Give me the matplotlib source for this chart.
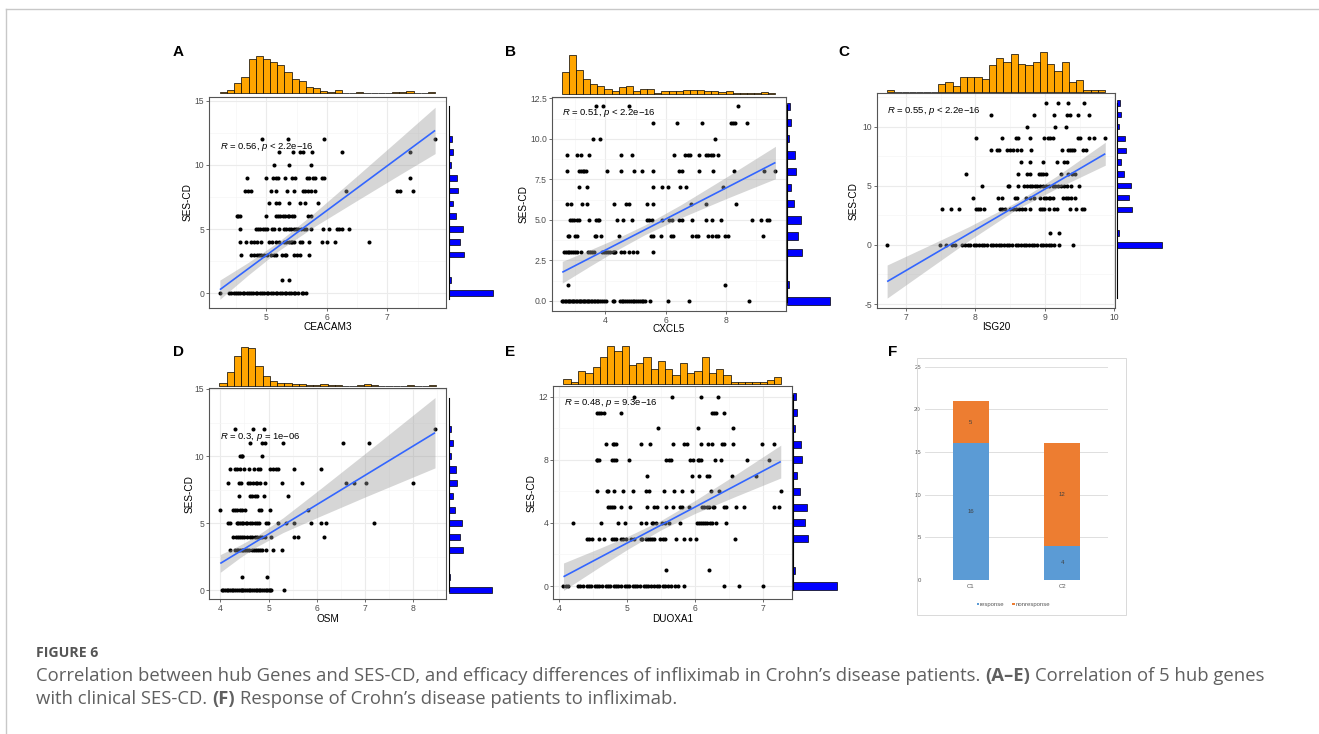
import numpy as np
import matplotlib
matplotlib.use("Agg")
import matplotlib.pyplot as plt
from matplotlib.lines import Line2D
from matplotlib.patches import Rectangle
from matplotlib.ticker import FixedLocator, MultipleLocator, FormatStrFormatter

plt.rcParams['font.family'] = ['Liberation Sans', 'DejaVu Sans']
plt.rcParams['mathtext.fontset'] = 'custom'
plt.rcParams['mathtext.rm'] = 'Liberation Sans'
plt.rcParams['mathtext.it'] = 'Liberation Sans:italic'
plt.rcParams['axes.unicode_minus'] = False

# ------------------------------------------------------------------ data
# SES-CD marginal histogram (same variable in every panel)
ses_levels = [0, 1, 3, 4, 5, 6, 7, 8, 9, 10, 11, 12]
ses_counts = [85, 3, 29, 22, 27, 13, 8, 17, 15, 4, 8, 5]

# Panel A: CEACAM3 values grouped by SES-CD score
ceacam3_by_ses = {
    12: [4.93, 5.36, 5.96, 7.79],
    11: [5.21, 5.44, 5.56, 5.60, 5.75, 6.25, 7.38],
    10: [5.12, 5.38, 5.74],
    9: [4.68, 5.00, 5.11, 5.15, 5.19, 5.30, 5.42, 5.47, 5.67, 5.70, 5.77, 5.80, 5.92, 5.95, 7.37],
    8: [4.65, 4.69, 4.74, 5.07, 5.16, 5.34, 5.46, 5.60, 5.64, 5.69, 5.73, 5.80, 6.31, 7.16, 7.21, 7.42],
    7: [5.04, 5.16, 5.20, 5.38, 5.56, 5.64, 5.86],
    6: [4.51, 4.53, 4.56, 4.99, 5.15, 5.19, 5.23, 5.27, 5.31, 5.36, 5.38, 5.43, 5.46, 5.69, 5.74],
    5: [4.56, 4.83, 4.86, 4.90, 4.94, 4.97, 5.01, 5.09, 5.13, 5.20, 5.29, 5.33, 5.37, 5.40, 5.45,
        5.49, 5.52, 5.57, 5.62, 5.65, 5.74, 5.93, 6.03, 6.16, 6.20, 6.25, 6.36],
    4: [4.56, 4.66, 4.75, 4.79, 4.85, 4.91, 5.04, 5.09, 5.15, 5.20, 5.29, 5.33, 5.37, 5.40, 5.43,
        5.46, 5.55, 5.59, 5.70, 5.92, 6.00, 6.14, 6.69],
    3: [4.58, 4.74, 4.79, 4.84, 4.88, 4.91, 4.96, 5.01, 5.07, 5.12, 5.15, 5.26, 5.30, 5.33, 5.45,
        5.51, 5.56, 5.70],
    1: [5.25, 5.38],
    0: [4.23, 4.38, 4.41, 4.46, 4.49, 4.53, 4.56, 4.61, 4.63, 4.68, 4.71, 4.75, 4.78, 4.83, 4.85,
        4.89, 4.93, 4.96, 5.01, 5.03, 5.08, 5.11, 5.15, 5.18, 5.23, 5.25, 5.30, 5.33, 5.38, 5.41,
        5.46, 5.48, 5.53, 5.58, 5.61, 5.66],
}
ceacam3_top_counts = [1, 3, 9, 14, 30, 33, 30, 27, 25, 19, 12, 11, 5, 4, 2, 1, 3, 0, 0, 1,
                      0, 0, 0, 0, 1, 1, 2, 0, 0, 1]
ceacam3_range = (4.23, 7.79)
ceacam3_fit_x = [4.23, 7.79]
ceacam3_fit_y = [0.26, 12.70]
ceacam3_ci_x = [4.23, 4.7, 5.2, 5.8, 6.5, 7.2, 7.79]
ceacam3_ci_lo = [-0.49, 1.41, 3.30, 5.21, 7.23, 9.23, 10.89]
ceacam3_ci_hi = [1.01, 2.39, 4.00, 6.29, 9.15, 12.05, 14.51]

# Panel B: CXCL5
cxcl5_by_ses = {
    12: [3.68, 3.93, 4.80, 8.41],
    11: [5.59, 6.39, 7.19, 8.17, 8.24, 8.30, 8.69],
    10: [3.60, 3.82, 7.64],
    9: [2.72, 3.05, 3.18, 3.45, 4.52, 4.87, 6.28, 6.65, 6.73, 6.81, 7.10, 7.34, 7.41, 7.49, 7.58, 7.75],
    8: [2.72, 3.13, 3.20, 3.25, 3.30, 3.36, 4.07, 4.52, 4.95, 5.23, 5.59, 6.44, 6.53, 7.10, 7.56,
        8.27, 9.27, 9.62],
    7: [3.14, 3.40, 5.59, 5.87, 6.09, 6.48, 6.66, 7.91],
    6: [2.72, 2.85, 3.22, 3.40, 4.29, 4.67, 4.80, 5.39, 5.59, 6.83, 7.33, 8.32],
    5: [2.83, 2.88, 2.96, 3.05, 3.13, 3.46, 3.69, 3.75, 3.80, 4.40, 4.57, 4.87, 5.37, 5.45, 5.54,
        5.89, 6.11, 6.22, 6.44, 6.53, 6.88, 7.33, 7.55, 7.83, 8.87, 9.15, 9.35, 9.44],
    4: [2.75, 2.81, 2.99, 3.05, 3.64, 3.68, 3.85, 4.46, 5.51, 5.59, 5.85, 6.17, 6.25, 6.88, 6.99,
        7.06, 7.41, 7.52, 7.67, 7.75, 7.97, 8.08, 9.24],
    3: [2.63, 2.70, 2.75, 2.81, 2.86, 2.92, 2.99, 3.05, 3.19, 3.41, 3.49, 3.55, 3.62, 3.90, 3.96,
        4.02, 4.08, 4.15, 4.24, 4.30, 4.32, 4.52, 4.62, 4.80, 4.91, 5.04, 5.59],
    1: [2.77, 7.97],
    0: [2.57, 2.61, 2.66, 2.71, 2.75, 2.79, 2.84, 2.89, 2.93, 2.97, 3.02, 3.07, 3.11, 3.15, 3.20,
        3.25, 3.29, 3.33, 3.38, 3.43, 3.47, 3.52, 3.57, 3.62, 3.66, 3.72, 3.77, 3.83, 3.89, 3.95,
        4.03, 4.24, 4.30, 4.49, 4.54, 4.60, 4.66, 4.72, 4.78, 4.84, 4.90, 4.96, 5.02, 5.08, 5.14,
        5.20, 5.26, 5.31, 5.49, 6.08, 6.77, 8.77],
}
cxcl5_top_counts = [25, 45, 28, 18, 12, 9, 6, 4, 8, 9, 4, 6, 6, 2, 4, 4, 4, 5, 5, 5,
                    4, 4, 3, 4, 2, 1, 2, 1, 3, 2]
cxcl5_range = (2.55, 9.64)
cxcl5_fit_x = [2.57, 9.64]
cxcl5_fit_y = [1.77, 8.54]
cxcl5_ci_x = [2.57, 3.5, 4.4, 5.3, 6.5, 8.0, 9.64]
cxcl5_ci_lo = [1.10, 2.16, 3.16, 4.08, 5.13, 6.31, 7.54]
cxcl5_ci_hi = [2.44, 3.16, 3.88, 4.68, 5.93, 7.63, 9.54]

# Panel C: ISG20
isg20_by_ses = {
    12: [9.02, 9.19, 9.33, 9.56],
    11: [8.23, 8.84, 9.13, 9.32, 9.36, 9.48, 9.63],
    10: [8.75, 9.15, 9.31],
    9: [8.01, 8.39, 8.58, 8.61, 8.78, 8.99, 9.04, 9.08, 9.12, 9.48, 9.51, 9.63, 9.71, 9.86],
    8: [8.22, 8.31, 8.34, 8.46, 8.50, 8.54, 8.60, 8.65, 8.80, 9.24, 9.33, 9.36, 9.39, 9.42, 9.55, 9.59],
    7: [8.66, 8.78, 8.97, 9.18, 9.28, 9.32],
    6: [7.86, 8.61, 8.75, 8.78, 8.92, 8.94, 8.98, 9.02, 9.23, 9.33, 9.39, 9.43],
    5: [8.09, 8.47, 8.49, 8.61, 8.70, 8.75, 8.78, 8.82, 8.86, 8.89, 8.93, 8.98, 9.02, 9.06, 9.12,
        9.15, 9.19, 9.23, 9.27, 9.32, 9.37, 9.49],
    4: [7.96, 8.33, 8.39, 8.57, 8.60, 8.73, 8.79, 8.84, 8.93, 8.99, 9.02, 9.06, 9.08, 9.12, 9.26,
        9.30, 9.33, 9.37, 9.43],
    3: [7.52, 7.65, 7.77, 8.01, 8.04, 8.06, 8.12, 8.36, 8.39, 8.43, 8.50, 8.54, 8.58, 8.63, 8.67,
        8.71, 8.78, 8.93, 8.96, 8.99, 9.06, 9.13, 9.18, 9.36, 9.45, 9.54, 9.57],
    1: [9.07, 9.21],
    0: [6.73, 7.49, 7.58, 7.66, 7.71, 7.81, 7.85, 7.90, 7.93, 7.98, 8.01, 8.05, 8.10, 8.13, 8.17,
        8.22, 8.25, 8.29, 8.34, 8.37, 8.41, 8.46, 8.49, 8.53, 8.58, 8.61, 8.65, 8.70, 8.73, 8.77,
        8.82, 8.85, 8.89, 8.94, 8.97, 9.01, 9.06, 9.09, 9.13, 9.21, 9.40],
}
isg20_top_counts = [1, 0, 0, 0, 0, 0, 0, 4, 5, 3, 8, 8, 8, 7, 14, 18, 16, 20, 15, 14,
                    16, 21, 15, 11, 16, 5, 6, 1, 1, 1]
isg20_range = (6.73, 9.87)
isg20_fit_x = [6.73, 9.87]
isg20_fit_y = [-3.10, 7.71]
isg20_ci_x = [6.73, 7.3, 7.9, 8.6, 9.2, 9.87]
isg20_ci_lo = [-4.50, -2.14, 0.34, 3.04, 4.87, 6.74]
isg20_ci_hi = [-1.70, -0.14, 1.52, 3.64, 5.93, 8.68]

# Panel D: OSM
osm_by_ses = {
    12: [4.30, 4.68, 4.90, 8.45],
    11: [4.61, 4.87, 4.93, 5.29, 6.54, 7.09],
    10: [4.41, 4.44, 4.46, 4.87],
    9: [4.20, 4.30, 4.35, 4.41, 4.50, 4.60, 4.70, 4.79, 4.82, 5.04, 5.10, 5.15, 5.20, 5.53, 6.09],
    8: [4.17, 4.39, 4.43, 4.58, 4.61, 4.68, 4.73, 4.77, 4.82, 4.93, 5.27, 5.69, 6.60, 6.77, 7.01, 8.00],
    7: [4.39, 4.61, 4.66, 4.72, 4.77, 4.90, 5.40],
    6: [3.99, 4.27, 4.30, 4.35, 4.41, 4.46, 4.51, 4.80, 4.84, 5.03, 5.81],
    5: [4.17, 4.20, 4.34, 4.37, 4.41, 4.44, 4.48, 4.53, 4.56, 4.61, 4.66, 4.72, 4.77, 4.80, 4.95,
        4.98, 5.19, 5.37, 5.53, 5.87, 6.09, 6.20, 7.18],
    4: [4.27, 4.32, 4.37, 4.41, 4.44, 4.50, 4.56, 4.61, 4.66, 4.72, 4.77, 4.82, 4.87, 4.93, 5.06,
        5.53, 5.62, 6.15],
    3: [4.20, 4.30, 4.34, 4.37, 4.41, 4.44, 4.48, 4.51, 4.56, 4.60, 4.65, 4.70, 4.74, 4.79, 4.82,
        4.87, 4.95, 5.10, 5.27],
    1: [4.44, 4.96],
    0: [4.03, 4.06, 4.10, 4.13, 4.17, 4.21, 4.24, 4.27, 4.31, 4.34, 4.38, 4.42, 4.45, 4.48, 4.52,
        4.55, 4.59, 4.62, 4.66, 4.70, 4.73, 4.76, 4.80, 4.83, 4.87, 4.91, 4.94, 4.97, 5.01, 5.04,
        5.06, 5.33],
}
osm_top_counts = [4, 19, 41, 53, 51, 27, 13, 6, 4, 3, 2, 2, 1, 1, 2, 1, 1, 0, 0, 1,
                  2, 1, 0, 0, 0, 0, 1, 0, 0, 1]
osm_range = (3.98, 8.47)
osm_fit_x = [4.00, 8.45]
osm_fit_y = [2.00, 11.74]
osm_ci_x = [4.0, 4.4, 4.75, 5.3, 6.0, 7.0, 8.45]
osm_ci_lo = [1.34, 2.41, 3.24, 4.30, 5.41, 6.95, 9.12]
osm_ci_hi = [2.66, 3.35, 4.04, 5.40, 7.35, 10.19, 14.36]

# Panel E: DUOXA1
duoxa1_by_ses = {
    12: [5.10, 5.66, 6.09, 6.33],
    11: [4.55, 4.58, 4.61, 4.65, 4.91, 6.25, 6.28, 6.30, 6.42],
    10: [5.45, 6.04, 6.55],
    9: [4.69, 4.79, 4.81, 4.83, 5.20, 5.34, 5.68, 5.84, 5.88, 6.09, 6.19, 6.25, 6.39, 6.42, 6.55,
        6.99, 7.16],
    8: [4.55, 4.56, 4.58, 4.78, 4.81, 4.83, 5.03, 5.57, 5.62, 5.65, 5.92, 5.97, 6.04, 6.06, 6.09,
        6.29, 6.38, 6.76, 7.09],
    7: [5.29, 5.96, 6.05, 6.18, 6.21, 6.54, 6.89],
    6: [4.55, 4.70, 4.72, 4.80, 4.93, 5.08, 5.27, 5.32, 5.54, 5.69, 5.80, 5.96, 6.23, 6.35, 7.26],
    5: [4.72, 4.75, 4.78, 4.81, 4.91, 5.04, 5.29, 5.40, 5.43, 5.57, 5.68, 5.78, 5.80, 5.91, 6.10,
        6.13, 6.18, 6.20, 6.26, 6.28, 6.42, 6.46, 6.60, 6.72, 7.16, 7.24],
    4: [4.20, 4.61, 4.86, 4.96, 5.20, 5.27, 5.36, 5.38, 5.42, 5.51, 5.55, 5.62, 5.78, 6.03, 6.06,
        6.09, 6.12, 6.15, 6.18, 6.22, 6.25, 6.30, 6.46],
    3: [4.41, 4.44, 4.48, 4.58, 4.65, 4.78, 4.81, 4.84, 4.91, 4.94, 4.98, 5.05, 5.10, 5.20, 5.22,
        5.27, 5.30, 5.34, 5.37, 5.40, 5.48, 5.52, 5.55, 5.71, 5.84, 5.93, 6.01, 6.59],
    1: [5.57, 6.21],
    0: [4.06, 4.09, 4.13, 4.27, 4.31, 4.35, 4.40, 4.43, 4.47, 4.52, 4.55, 4.59, 4.63, 4.68, 4.71,
        4.75, 4.80, 4.83, 4.87, 4.91, 4.96, 4.99, 5.03, 5.08, 5.11, 5.15, 5.19, 5.24, 5.27, 5.31,
        5.35, 5.40, 5.43, 5.47, 5.52, 5.55, 5.60, 5.64, 5.70, 5.75, 5.83, 6.43, 6.65, 7.00],
}
duoxa1_top_counts = [3, 1, 7, 6, 9, 14, 20, 17, 20, 10, 11, 14, 8, 12, 8, 5, 11, 6, 7, 14,
                     6, 8, 5, 1, 1, 1, 1, 1, 2, 4]
duoxa1_range = (4.06, 7.27)
duoxa1_fit_x = [4.06, 7.26]
duoxa1_fit_y = [0.59, 7.89]
duoxa1_ci_x = [4.06, 4.6, 5.0, 5.5, 6.0, 6.6, 7.26]
duoxa1_ci_lo = [-0.28, 1.23, 2.32, 3.57, 4.61, 5.69, 6.85]
duoxa1_ci_hi = [1.46, 2.41, 3.14, 4.17, 5.43, 7.07, 8.93]

# Panel F: infliximab response by cluster
clusters = ['C1', 'C2']
response = [16, 4]
nonresponse = [5, 12]
f_yticks = [0, 5, 10, 15, 20, 25]

# ------------------------------------------------------------------ figure
W, H = 1319, 734
fig = plt.figure(figsize=(W / 100, H / 100), dpi=100)
fig.patch.set_facecolor('white')


def px_axes(l, t, r, b):
    return fig.add_axes([l / W, 1 - b / H, (r - l) / W, (b - t) / H])


def fig_text(x, y, s, **kw):
    return fig.text(x / W, 1 - y / H, s, **kw)


# outer frame lines
fig.add_artist(Line2D([6.3 / W, 1.0], [1 - 9.3 / H] * 2, color='#c8c8c8', lw=1.0))
fig.add_artist(Line2D([6.3 / W] * 2, [1 - 9.3 / H, 0.0], color='#c8c8c8', lw=1.0))

ORANGE = '#FFA500'
BLUE = '#0000FF'


def scatter_panel(by_ses, top_counts, hrange, fit_x, fit_y, ci_x, ci_lo, ci_hi,
                  box, xlim, ylim, xticks, yticks, yfmt, minor_x, minor_y,
                  label, r_text, r_pos, xlabel, xlabel_y, ylabel_x,
                  top_px, right_px, right_line):
    l, t, r, b = box
    ax = px_axes(l, t, r, b)
    ax.set_xlim(*xlim)
    ax.set_ylim(*ylim)
    xs, ys = [], []
    for lev, vals in by_ses.items():
        xs += vals
        ys += [lev] * len(vals)
    ax.scatter(xs, ys, s=8.5, c='black', lw=0, zorder=2)
    ax.fill_between(ci_x, ci_lo, ci_hi, color='#999999', alpha=0.4, lw=0, zorder=3)
    ax.plot(fit_x, fit_y, color='#3366FF', lw=1.2, zorder=4, solid_capstyle='butt')
    ax.xaxis.set_major_locator(FixedLocator(xticks))
    ax.yaxis.set_major_locator(FixedLocator(yticks))
    ax.xaxis.set_minor_locator(MultipleLocator(minor_x))
    ax.yaxis.set_minor_locator(MultipleLocator(minor_y))
    ax.yaxis.set_major_formatter(FormatStrFormatter(yfmt))
    ax.set_axisbelow(True)
    ax.grid(which='major', color='#EBEBEB', lw=0.8)
    ax.grid(which='minor', color='#F5F5F5', lw=0.5)
    ax.tick_params(which='minor', length=0)
    ax.tick_params(which='major', length=2.2, width=0.5, color='#333333',
                   labelsize=6.2, labelcolor='#4D4D4D', pad=1.3)
    for sp in ax.spines.values():
        sp.set_color('#555555')
        sp.set_linewidth(0.8)
    ax.text(r_pos[0], r_pos[1], r_text, transform=ax.transAxes, fontsize=6.8,
            ha='left', va='center', zorder=5)
    fig_text((l + r) / 2, xlabel_y, xlabel, fontsize=7.2, ha='center', va='center')
    fig_text(ylabel_x, (t + b) / 2, 'SES-CD', fontsize=7.2, ha='center', va='center',
             rotation=90)
    fig_text(label[1], label[2], label[0], fontsize=11, fontweight='bold',
             ha='center', va='center')

    # top marginal histogram
    base, top = top_px
    axt = px_axes(l, top, r, base)
    axt.set_xlim(*xlim)
    axt.set_ylim(0, max(top_counts))
    edges = np.linspace(hrange[0], hrange[1], len(top_counts) + 1)
    axt.bar(edges[:-1], top_counts, width=np.diff(edges), align='edge', color=ORANGE,
            edgecolor='black', lw=0.5, clip_on=False)
    axt.axis('off')

    # right marginal histogram
    rl, rr = right_px
    rt, rb = right_line
    dpp = (ylim[1] - ylim[0]) / (b - t)
    axr = px_axes(rl, rt, rr, rb)
    axr.set_ylim(ylim[0] + (b - rb) * dpp, ylim[1] - (rt - t) * dpp)
    axr.set_xlim(0, max(ses_counts))
    axr.barh(ses_levels, ses_counts, height=0.45, color=BLUE, edgecolor='black', lw=0.5,
             clip_on=False)
    axr.plot([0, 0], [0, 1], transform=axr.transAxes, color='black', lw=0.8, clip_on=False)
    axr.axis('off')
    return ax


scatter_panel(ceacam3_by_ses, ceacam3_top_counts, ceacam3_range, ceacam3_fit_x, ceacam3_fit_y,
              ceacam3_ci_x, ceacam3_ci_lo, ceacam3_ci_hi,
              box=(209, 97, 446, 308), xlim=(4.05, 7.97), ylim=(-1.17, 15.31),
              xticks=[5, 6, 7], yticks=[0, 5, 10, 15], yfmt='%g', minor_x=0.5, minor_y=2.5,
              label=('A', 178, 52.5), r_text=r'$\mathit{R}$ = 0.56, $\mathit{p}$ < 2.2e−16',
              r_pos=(0.046, 0.763), xlabel='CEACAM3', xlabel_y=327, ylabel_x=188,
              top_px=(93, 55.7), right_px=(449, 493), right_line=(106, 299))

scatter_panel(cxcl5_by_ses, cxcl5_top_counts, cxcl5_range, cxcl5_fit_x, cxcl5_fit_y,
              cxcl5_ci_x, cxcl5_ci_lo, cxcl5_ci_hi,
              box=(551.7, 96.7, 786, 310.7), xlim=(2.22, 9.99), ylim=(-0.6, 12.6),
              xticks=[4, 6, 8], yticks=[0, 2.5, 5, 7.5, 10, 12.5], yfmt='%.1f',
              minor_x=1, minor_y=1.25,
              label=('B', 510.5, 52.5), r_text=r'$\mathit{R}$ = 0.51, $\mathit{p}$ < 2.2e−16',
              r_pos=(0.045, 0.922), xlabel='CXCL5', xlabel_y=328.5, ylabel_x=523.5,
              top_px=(94.3, 55), right_px=(787.3, 830), right_line=(105, 301.7))

scatter_panel(isg20_by_ses, isg20_top_counts, isg20_range, isg20_fit_x, isg20_fit_y,
              isg20_ci_x, isg20_ci_lo, isg20_ci_hi,
              box=(876.7, 93.3, 1115, 308.3), xlim=(6.58, 10.01), ylim=(-5.36, 12.82),
              xticks=[7, 8, 9, 10], yticks=[-5, 0, 5, 10], yfmt='%g', minor_x=0.5, minor_y=2.5,
              label=('C', 844, 52.5), r_text=r'$\mathit{R}$ = 0.55, $\mathit{p}$ < 2.2e−16',
              r_pos=(0.044, 0.919), xlabel='ISG20', xlabel_y=327, ylabel_x=854,
              top_px=(91.7, 52.3), right_px=(1117.3, 1161.7), right_line=(103, 298))

scatter_panel(osm_by_ses, osm_top_counts, osm_range, osm_fit_x, osm_fit_y,
              osm_ci_x, osm_ci_lo, osm_ci_hi,
              box=(209, 388.3, 446, 599), xlim=(3.766, 8.678), ylim=(-0.65, 15.05),
              xticks=[4, 5, 6, 7, 8], yticks=[0, 5, 10, 15], yfmt='%g', minor_x=0.5, minor_y=2.5,
              label=('D', 178, 351.5), r_text=r'$\mathit{R}$ = 0.3, $\mathit{p}$ = 1e−06',
              r_pos=(0.046, 0.770), xlabel='OSM', xlabel_y=619, ylabel_x=190,
              top_px=(385.7, 346.7), right_px=(448.7, 492), right_line=(398, 591))

scatter_panel(duoxa1_by_ses, duoxa1_top_counts, duoxa1_range, duoxa1_fit_x, duoxa1_fit_y,
              duoxa1_ci_x, duoxa1_ci_lo, duoxa1_ci_hi,
              box=(553.3, 386, 792.3, 599.3), xlim=(3.91, 7.43), ylim=(-0.84, 12.68),
              xticks=[4, 5, 6, 7], yticks=[0, 4, 8, 12], yfmt='%g', minor_x=0.5, minor_y=2,
              label=('E', 510, 351.5), r_text=r'$\mathit{R}$ = 0.48, $\mathit{p}$ = 9.3e−16',
              r_pos=(0.045, 0.919), xlabel='DUOXA1', xlabel_y=619, ylabel_x=531.7,
              top_px=(384.3, 345.7), right_px=(793.3, 837.3), right_line=(395, 590))

# ------------------------------------------------------------------ panel F
fig_text(893, 352, 'F', fontsize=11, fontweight='bold', ha='center', va='center')
fig.add_artist(Rectangle((917 / W, 1 - 615 / H), (1126 - 917) / W, (615 - 358) / H,
                         transform=fig.transFigure, fill=False, edgecolor='#D9D9D9', lw=0.7))
axf = px_axes(925, 366.7, 1108, 580)
xpos = np.arange(len(clusters))
axf.bar(xpos, response, width=0.39, color='#5B9BD5', zorder=3)
axf.bar(xpos, nonresponse, width=0.39, bottom=response, color='#ED7D31', zorder=3)
for i in range(len(clusters)):
    axf.text(xpos[i], response[i] / 2, str(response[i]), ha='center', va='center',
             fontsize=4.3, color='#404040', zorder=4)
    axf.text(xpos[i], response[i] + nonresponse[i] / 2, str(nonresponse[i]), ha='center',
             va='center', fontsize=4.3, color='#404040', zorder=4)
axf.set_xlim(-0.5, len(clusters) - 0.5)
axf.set_ylim(0, 25)
axf.set_yticks(f_yticks)
axf.set_xticks(xpos)
axf.set_xticklabels(clusters)
axf.grid(axis='y', color='#D9D9D9', lw=0.6, zorder=0)
axf.tick_params(length=0, labelsize=4.3, labelcolor='#595959', pad=3)
for sp in axf.spines.values():
    sp.set_visible(False)
# legend
axf_leg = [('#5B9BD5', 'response', 976.5), ('#ED7D31', 'nonresponse', 1012.3)]
for col, name, xp in axf_leg:
    fig.add_artist(Rectangle((xp / W, 1 - 605.3 / H), 2.6 / W, 2.6 / H,
                             transform=fig.transFigure, color=col, lw=0))
    fig_text(xp + 3.6, 604.2, name, fontsize=4.3, color='#595959', ha='left', va='center')

# ------------------------------------------------------------------ caption
renderer = fig.canvas.get_renderer()
CAP_COLOR = '#606060'
CAP_SIZE = 13.3


def width_of(s, **kw):
    t = fig.text(0, 0, s, **kw)
    w = t.get_window_extent(renderer=renderer).width
    t.remove()
    return w


def rich_line(x, y, parts):
    space = (width_of('x x', fontsize=CAP_SIZE, family='Open Sans')
             - width_of('xx', fontsize=CAP_SIZE, family='Open Sans'))
    for txt, weight in parts:
        lead = len(txt) - len(txt.lstrip(' '))
        trail = len(txt) - len(txt.rstrip(' '))
        x += lead * space
        core = txt.strip(' ')
        t = fig_text(x, y, core, fontsize=CAP_SIZE, fontweight=weight, color=CAP_COLOR,
                     family='Open Sans', ha='left', va='center')
        x += t.get_window_extent(renderer=renderer).width + trail * space


fig_text(36.5, 653, 'FIGURE 6', fontsize=10.2, fontweight='bold', color='#555555',
         family='Open Sans', ha='left', va='center')
rich_line(36.5, 676, [
    ('Correlation between hub Genes and SES-CD, and efficacy differences of infliximab in '
     'Crohn’s disease patients. ', 'normal'),
    ('(A–E)', 'bold'),
    (' Correlation of 5 hub genes', 'normal')])
rich_line(36.5, 699, [
    ('with clinical SES-CD. ', 'normal'),
    ('(F)', 'bold'),
    (' Response of Crohn’s disease patients to infliximab.', 'normal')])

fig.savefig('out.png', dpi=100, facecolor='white')
